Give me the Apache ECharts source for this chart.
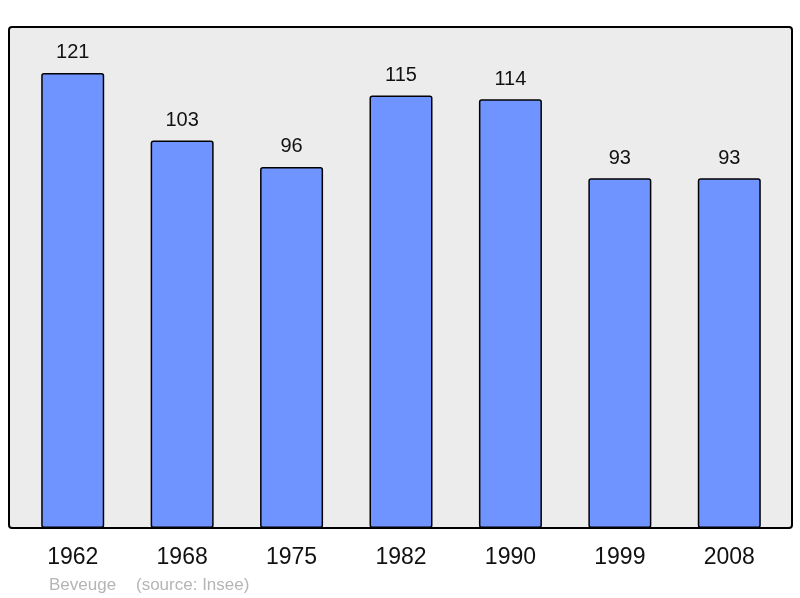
<!DOCTYPE html>
<html>
<head>
<meta charset="utf-8">
<script src="https://cdn.jsdelivr.net/npm/echarts@6/dist/echarts.min.js"></script>
<style>
  html, body { margin: 0; padding: 0; background: #fff; }
  #main { width: 800px; height: 598px; }
</style>
</head>
<body>
<div id="main"></div>
<script>
// population per census year
const years = ['1962', '1968', '1975', '1982', '1990', '1999', '2008'];
const population = [121, 103, 96, 115, 114, 93, 93];

const myChart = echarts.init(document.getElementById('main'));

let option = {
    animation: false,
    textStyle: { fontFamily: 'Liberation Sans, Arial, sans-serif' },
    graphic: [
        {
            type: 'rect',
            z: -10,
            shape: { x: 9, y: 27, width: 783, height: 501, r: 3 },
            style: { fill: '#ececec', stroke: '#000', lineWidth: 2 }
        },
        {
            type: 'text',
            left: 49,
            top: 577,
            style: { text: 'Beveuge', fill: '#b5b5b5', font: '17px Liberation Sans, Arial, sans-serif' }
        },
        {
            type: 'text',
            left: 136,
            top: 577,
            style: { text: '(source: Insee)', fill: '#b5b5b5', font: '17px Liberation Sans, Arial, sans-serif' }
        }
    ],
    grid: { left: 18, width: 766, top: 27, height: 501 },
    xAxis: {
        type: 'category',
        data: years,
        axisLine: { show: false },
        axisTick: { show: false },
        axisLabel: { color: '#111', fontSize: 23, margin: 18 }
    },
    yAxis: {
        type: 'value',
        min: 0,
        max: 133.2,
        show: false,
        splitLine: { show: false }
    },
    series: [
        {
            type: 'bar',
            data: population,
            barWidth: 63,
            itemStyle: {
                color: '#7094ff',
                borderColor: '#000',
                borderWidth: 1.5,
                borderRadius: 2
            },
            label: {
                show: true,
                position: 'top',
                distance: 10,
                color: '#111',
                fontSize: 20
            }
        }
    ]
};

myChart.setOption(option);
</script>
</body>
</html>
